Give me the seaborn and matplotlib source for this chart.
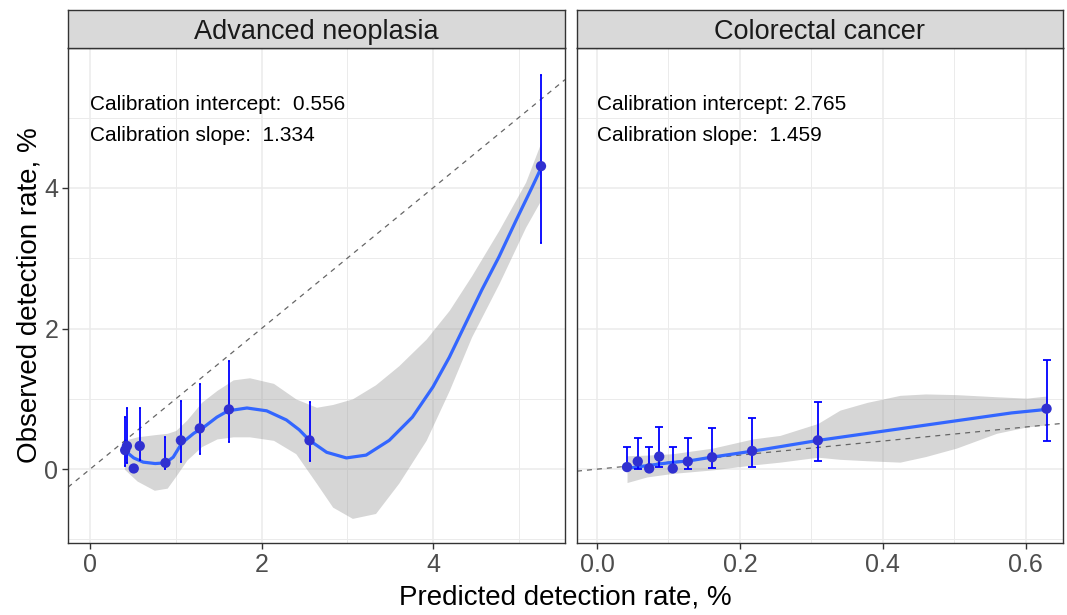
import numpy as np
import pandas as pd
import matplotlib
matplotlib.use("Agg")
import matplotlib.pyplot as plt
import seaborn as sns
from matplotlib.ticker import MultipleLocator, FixedLocator

sns.set_theme(style="white")
plt.rcParams['font.family'] = ['Liberation Sans', 'DejaVu Sans']

# ---------------- data ----------------
panel_titles = ["Advanced neoplasia", "Colorectal cancer"]
intercept_txt = ["Calibration intercept:  0.556", "Calibration intercept: 2.765"]
slope_txt = ["Calibration slope:  1.334", "Calibration slope:  1.459"]

# Advanced neoplasia – grouped observed vs predicted (%)
an_pred = [0.41, 0.43, 0.51, 0.58, 0.88, 1.06, 1.28, 1.62, 2.56, 5.26]
an_obs = [0.27, 0.33, 0.01, 0.33, 0.09, 0.41, 0.58, 0.85, 0.41, 4.31]
an_lo = [0.04, 0.09, 0.00, 0.13, 0.00, 0.10, 0.21, 0.38, 0.11, 3.21]
an_hi = [0.74, 0.87, 0.02, 0.87, 0.46, 0.97, 1.21, 1.54, 0.95, 5.61]

# Advanced neoplasia – smoothed calibration curve
an_curve_x = [0.40, 0.51, 0.62, 0.76, 0.88, 0.97, 1.07, 1.21, 1.33, 1.48, 1.61, 1.83,
              2.06, 2.29, 2.44, 2.56, 2.76, 2.99, 3.22, 3.49, 3.76, 4.00, 4.19, 4.38,
              4.57, 4.77, 4.97, 5.16, 5.26]
an_curve_y = [0.27, 0.16, 0.10, 0.08, 0.09, 0.17, 0.37, 0.51, 0.60, 0.74, 0.83, 0.87,
              0.83, 0.70, 0.56, 0.41, 0.24, 0.16, 0.20, 0.41, 0.74, 1.17, 1.59, 2.07,
              2.55, 3.02, 3.54, 4.02, 4.28]
an_band_x = [0.40, 0.55, 0.75, 0.90, 1.00, 1.13, 1.30, 1.48, 1.67, 1.86, 2.14, 2.40,
             2.64, 2.83, 3.06, 3.33, 3.60, 3.92, 4.19, 4.45, 4.77, 5.08, 5.26]
an_band_lo = [0.00, -0.17, -0.30, -0.27, -0.10, 0.13, 0.32, 0.43, 0.46, 0.46, 0.41, 0.22,
              -0.20, -0.54, -0.70, -0.63, -0.20, 0.41, 1.12, 1.88, 2.64, 3.44, 3.83]
an_band_hi = [0.41, 0.46, 0.49, 0.51, 0.55, 0.70, 0.95, 1.12, 1.27, 1.30, 1.22, 1.00,
              0.88, 0.92, 1.00, 1.20, 1.47, 1.85, 2.26, 2.75, 3.40, 4.08, 4.65]

# Colorectal cancer – grouped observed vs predicted (%)
crc_pred = [0.042, 0.057, 0.073, 0.087, 0.106, 0.127, 0.161, 0.217, 0.309, 0.629]
crc_obs = [0.03, 0.11, 0.01, 0.18, 0.01, 0.11, 0.17, 0.26, 0.41, 0.86]
crc_lo = [0.00, 0.00, 0.00, 0.03, 0.00, 0.00, 0.01, 0.03, 0.11, 0.40]
crc_hi = [0.31, 0.45, 0.31, 0.60, 0.31, 0.45, 0.58, 0.73, 0.95, 1.55]

# Colorectal cancer – smoothed calibration curve
crc_curve_x = [0.040, 0.070, 0.100, 0.130, 0.160, 0.220, 0.310, 0.400, 0.490, 0.580, 0.629]
crc_curve_y = [0.01, 0.05, 0.09, 0.12, 0.17, 0.26, 0.41, 0.54, 0.67, 0.80, 0.85]
crc_band_x = [0.042, 0.070, 0.106, 0.162, 0.218, 0.256, 0.309, 0.340, 0.378, 0.424,
              0.460, 0.503, 0.559, 0.601, 0.629]
crc_band_lo = [-0.19, -0.11, -0.06, -0.01, 0.06, 0.10, 0.17, 0.14, 0.12, 0.10,
               0.18, 0.30, 0.51, 0.60, 0.63]
crc_band_hi = [0.19, 0.20, 0.22, 0.30, 0.43, 0.48, 0.65, 0.84, 0.95, 1.05,
               1.07, 1.06, 1.03, 1.01, 1.04]

panels = [
    dict(pred=an_pred, obs=an_obs, lo=an_lo, hi=an_hi, cx=an_curve_x, cy=an_curve_y,
         bx=an_band_x, blo=an_band_lo, bhi=an_band_hi, xlim=(-0.257, 5.54),
         xticks=[0, 2, 4], xlabels=["0", "2", "4"], minor=1.0, cap=0.8),
    dict(pred=crc_pred, obs=crc_obs, lo=crc_lo, hi=crc_hi, cx=crc_curve_x, cy=crc_curve_y,
         bx=crc_band_x, blo=crc_band_lo, bhi=crc_band_hi, xlim=(-0.028, 0.652),
         xticks=[0.0, 0.2, 0.4, 0.6], xlabels=["0.0", "0.2", "0.4", "0.6"], minor=0.1, cap=3.2),
]

# ---------------- figure ----------------
W, H = 1067, 615
fig = plt.figure(figsize=(W / 100, H / 100), dpi=100)
fig.patch.set_facecolor("white")

panel_px = [(68, 565), (577, 1063)]
top_px, bot_px, strip_top = 48, 543, 10

for i, (p, (x0, x1)) in enumerate(zip(panels, panel_px)):
    ax = fig.add_axes([x0 / W, 1 - bot_px / H, (x1 - x0) / W, (bot_px - top_px) / H])
    ax.set_facecolor("white")

    ax.fill_between(p["bx"], p["blo"], p["bhi"], color="#999999", alpha=0.4,
                    linewidth=0, zorder=2)
    ax.axline((0, 0), slope=1, color="#666666", lw=0.9, ls=(0, (4, 4)), zorder=2.5)
    curve = pd.DataFrame({"x": p["cx"], "y": p["cy"]})
    sns.lineplot(data=curve, x="x", y="y", color="#3366FF", lw=2.3, ax=ax,
                 estimator=None, sort=False, zorder=3)
    obs = np.array(p["obs"])
    yerr = [obs - np.array(p["lo"]), np.array(p["hi"]) - obs]
    ax.errorbar(p["pred"], obs, yerr=yerr, fmt="none", ecolor="#0000FF",
                elinewidth=1.3, capsize=p["cap"], capthick=1.3, zorder=4)
    pts = pd.DataFrame({"x": p["pred"], "y": p["obs"]})
    sns.scatterplot(data=pts, x="x", y="y", color="#3030D0", s=55, edgecolor="none",
                    ax=ax, zorder=5)

    ax.set_xlim(*p["xlim"])
    ax.set_ylim(-1.05, 5.99)
    ax.xaxis.set_major_locator(FixedLocator(p["xticks"]))
    ax.set_xticklabels(p["xlabels"])
    ax.xaxis.set_minor_locator(MultipleLocator(p["minor"]))
    ax.yaxis.set_major_locator(FixedLocator([0, 2, 4]))
    ax.yaxis.set_minor_locator(MultipleLocator(1.0))
    ax.set_axisbelow(True)
    ax.grid(which="major", color="#EBEBEB", lw=1.1, zorder=0)
    ax.grid(which="minor", color="#EBEBEB", lw=0.7, zorder=0)
    ax.tick_params(which="major", direction="out", length=4, width=1, color="#333333",
                   labelsize=18, labelcolor="#4D4D4D", pad=3)
    ax.tick_params(which="minor", length=0)
    ax.tick_params(axis="both", bottom=True, left=True)
    if i == 1:
        ax.tick_params(axis="y", left=False, labelleft=False)
    ax.set_xlabel("")
    ax.set_ylabel("")
    for s in ax.spines.values():
        s.set_color("#333333")
        s.set_linewidth(1.0)
        s.set_visible(True)

    ax.text(0.0, 5.18, intercept_txt[i], fontsize=15, color="black", ha="left", va="center")
    ax.text(0.0, 4.75, slope_txt[i], fontsize=15, color="black", ha="left", va="center")

    sax = fig.add_axes([x0 / W, 1 - top_px / H, (x1 - x0) / W, (top_px - strip_top) / H])
    sax.set_facecolor("#D9D9D9")
    sax.set_xticks([])
    sax.set_yticks([])
    for s in sax.spines.values():
        s.set_color("#333333")
        s.set_linewidth(1.0)
    sax.text(0.5, 0.42, panel_titles[i], transform=sax.transAxes, ha="center", va="center",
             fontsize=19.5, color="#1A1A1A")

fig.text((68 + 1063) / 2 / W, 1 - 597 / H, "Predicted detection rate, %", ha="center",
         va="center", fontsize=20, color="black")
fig.text(30 / W, 1 - 295 / H, "Observed detection rate, %", ha="center", va="center",
         rotation=90, fontsize=20, color="black")

fig.savefig("out.png", dpi=100)
